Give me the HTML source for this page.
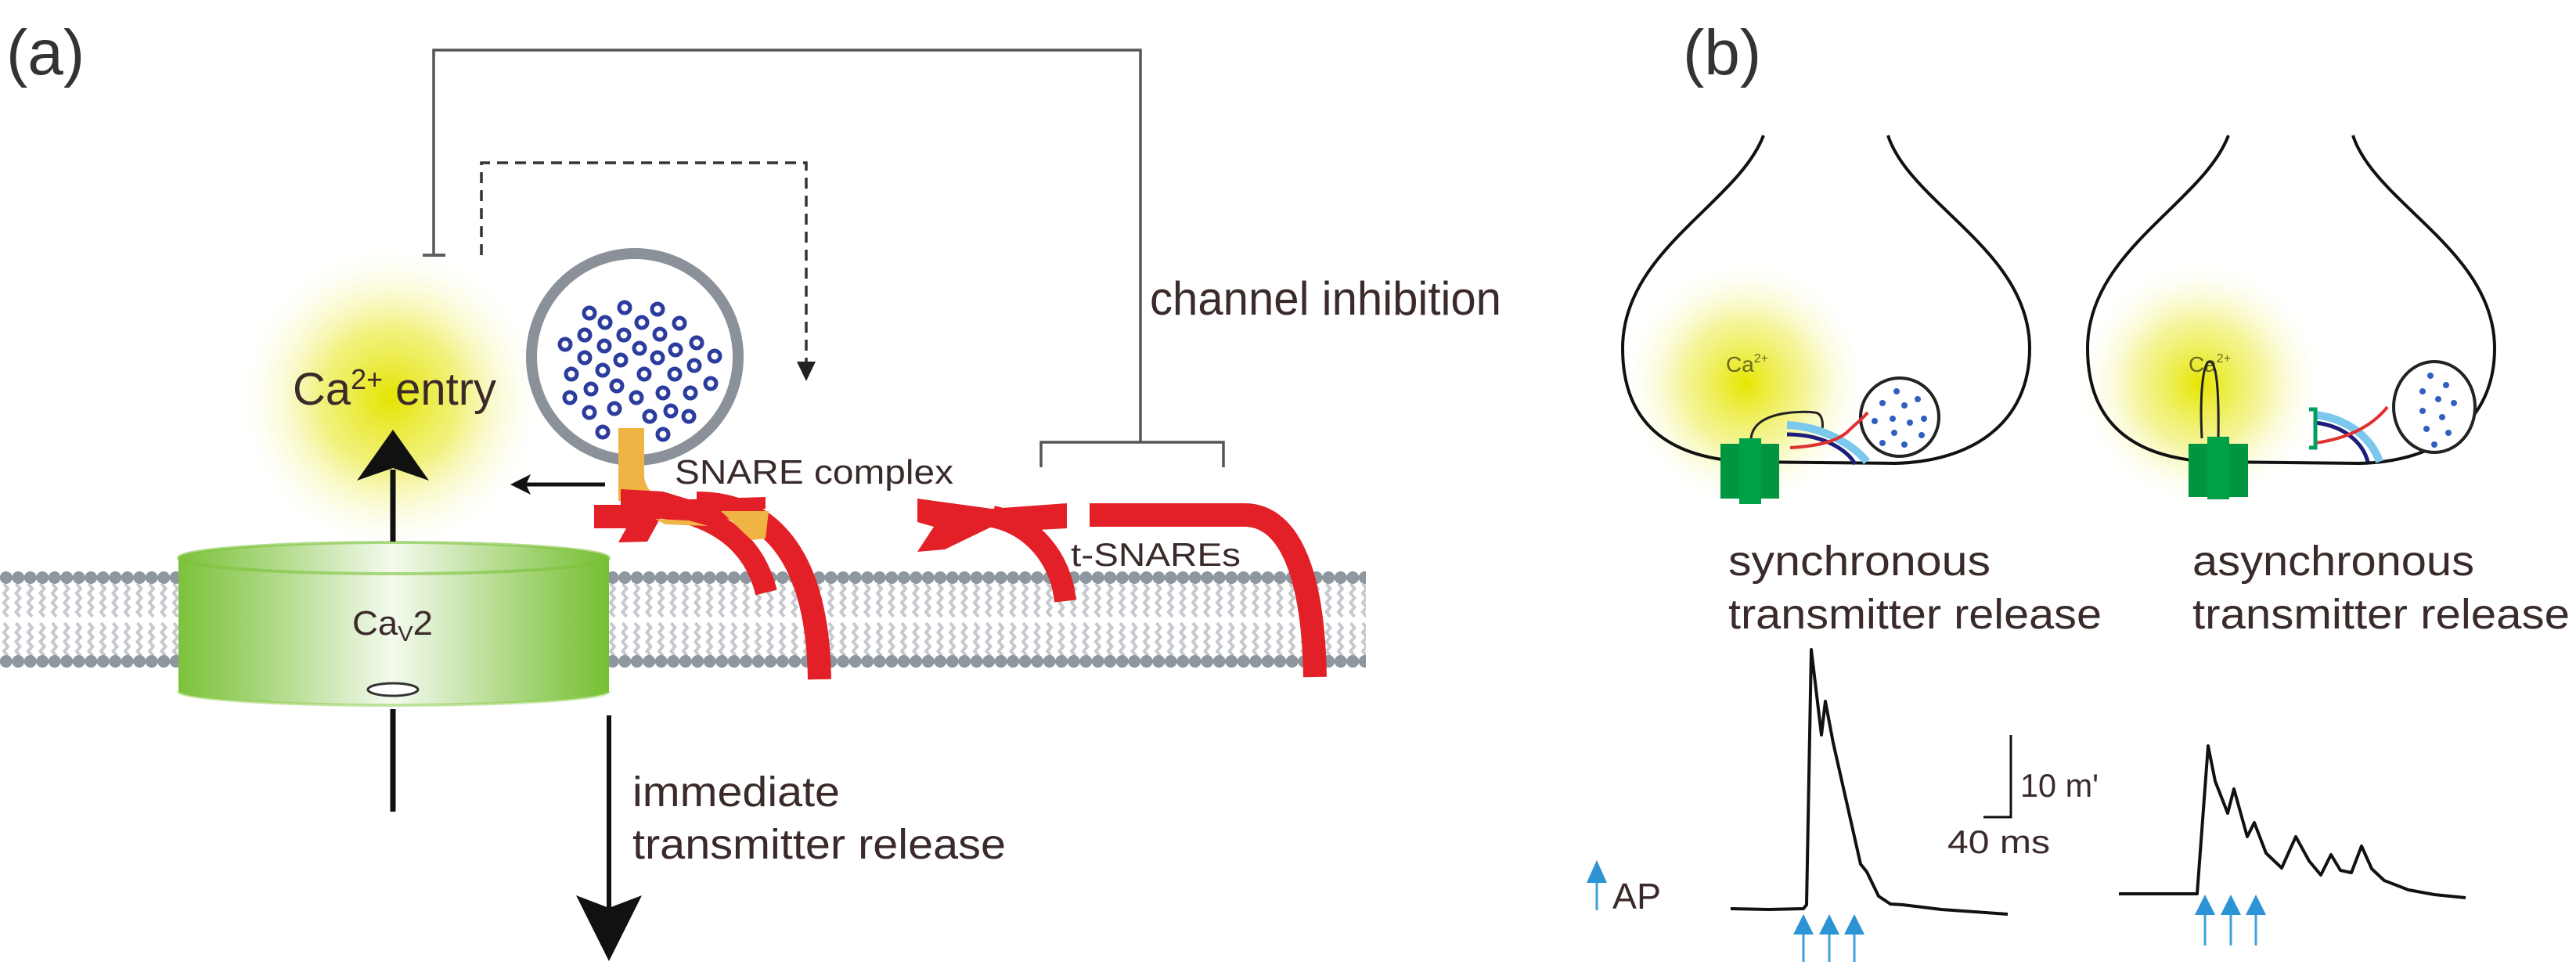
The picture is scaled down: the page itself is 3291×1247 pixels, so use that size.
<!DOCTYPE html>
<html><head><meta charset="utf-8"><style>
html,body{margin:0;padding:0;background:#fff;}
svg{display:block;}
text{font-family:"Liberation Sans",Arial,sans-serif;fill:#3a2a2a;}
</style></head><body>
<svg width="3291" height="1247" viewBox="0 0 3291 1247" xmlns="http://www.w3.org/2000/svg">
<defs>
 <radialGradient id="glowA" cx="0.5" cy="0.5" r="0.5">
  <stop offset="0" stop-color="#e4e400"/>
  <stop offset="0.45" stop-color="#eeee60" stop-opacity="0.8"/>
  <stop offset="1" stop-color="#ffffff" stop-opacity="0"/>
 </radialGradient>
 <radialGradient id="glowB" cx="0.5" cy="0.5" r="0.5">
  <stop offset="0" stop-color="#e6e600"/>
  <stop offset="0.5" stop-color="#f0f070" stop-opacity="0.7"/>
  <stop offset="1" stop-color="#ffffff" stop-opacity="0"/>
 </radialGradient>
 <linearGradient id="cyl" x1="0" x2="1" y1="0" y2="0">
  <stop offset="0" stop-color="#7cc23a"/>
  <stop offset="0.2" stop-color="#a9d77e"/>
  <stop offset="0.5" stop-color="#f4faee"/>
  <stop offset="0.8" stop-color="#a6d57a"/>
  <stop offset="1" stop-color="#76bf32"/>
 </linearGradient>
 <pattern id="mem" patternUnits="userSpaceOnUse" x="0" y="728" width="15.5" height="127">
  <polyline points="5,18 10,24 5,30 10,36 5,42 10,48 5,54 10,60" fill="none" stroke="#c6cace" stroke-width="4"/>
  <polyline points="5,68 10,74 5,80 10,86 5,92 10,98 5,104 10,110" fill="none" stroke="#c6cace" stroke-width="4"/>
  <circle cx="7.75" cy="10" r="8" fill="#8e969e"/>
  <circle cx="7.75" cy="117" r="8" fill="#8e969e"/>
 </pattern>
 <marker id="ah" markerWidth="10" markerHeight="10" refX="5" refY="9" orient="auto" markerUnits="userSpaceOnUse"/>
</defs>

<!-- ===== Panel (a) ===== -->
<text x="8" y="95" font-size="82" style="fill:#333">(a)</text>

<!-- connectors -->
<polyline points="554,326 554,64 1457,64 1457,565" fill="none" stroke="#555" stroke-width="3.5"/>
<line x1="540" y1="326" x2="569" y2="326" stroke="#555" stroke-width="4"/>
<polyline points="1330,597 1330,565 1563,565 1563,597" fill="none" stroke="#555" stroke-width="3.5"/>
<polyline points="615,326 615,208 1030,208 1030,470" fill="none" stroke="#333" stroke-width="3.5" stroke-dasharray="14,9"/>
<polygon points="1018,462 1042,462 1030,487" fill="#222"/>
<text x="1469" y="402" font-size="60" textLength="449" lengthAdjust="spacingAndGlyphs">channel inhibition</text>

<!-- glow -->
<circle cx="499" cy="509" r="200" fill="url(#glowA)"/>

<!-- membrane -->
<rect x="0" y="728" width="1745" height="127" fill="url(#mem)"/>

<!-- cylinder -->
<path d="M228 713 A275 20 0 0 1 778 713 L778 883 A275 18 0 0 1 228 883 Z" fill="url(#cyl)"/>
<path d="M228 713 A275 20 0 0 1 778 713 A275 20 0 0 1 228 713 Z" fill="none" stroke="#7cc23a" stroke-opacity="0.6" stroke-width="4"/>
<path d="M228 883 A275 18 0 0 0 778 883" fill="none" stroke="#8ccc4c" stroke-opacity="0.5" stroke-width="4"/>
<ellipse cx="502" cy="881" rx="32" ry="8" fill="#fff" stroke="#333" stroke-width="3"/>
<text x="450" y="811" font-size="44" textLength="103" lengthAdjust="spacingAndGlyphs">Ca<tspan font-size="28" dy="8">V</tspan><tspan dy="-8">2</tspan></text>

<!-- up arrow & lines -->
<line x1="502" y1="692" x2="502" y2="600" stroke="#111" stroke-width="7"/>
<polygon points="502,549 548,614 502,598 456,614" fill="#111"/>
<line x1="502" y1="906" x2="502" y2="1037" stroke="#111" stroke-width="7"/>
<text x="374" y="517" font-size="58" textLength="260" lengthAdjust="spacingAndGlyphs">Ca<tspan font-size="36" dy="-20">2+</tspan><tspan dy="20"> entry</tspan></text>

<!-- left arrow -->
<line x1="773" y1="619" x2="670" y2="619" stroke="#111" stroke-width="5"/>
<polygon points="652,619 678,606 672,619 678,632" fill="#111"/>

<!-- vesicle -->
<circle cx="811" cy="456" r="132" fill="#fff" stroke="#8a9198" stroke-width="14"/>
<g fill="#fff" stroke="#2b3c9e" stroke-width="5">
<circle cx="753" cy="400" r="7"/><circle cx="798" cy="393" r="7"/><circle cx="840" cy="395" r="7"/>
<circle cx="773" cy="412" r="7"/><circle cx="820" cy="412" r="7"/><circle cx="868" cy="413" r="7"/>
<circle cx="722" cy="440" r="7"/><circle cx="747" cy="428" r="7"/><circle cx="797" cy="428" r="7"/>
<circle cx="843" cy="427" r="7"/><circle cx="890" cy="438" r="7"/><circle cx="772" cy="442" r="7"/>
<circle cx="817" cy="445" r="7"/><circle cx="863" cy="447" r="7"/><circle cx="913" cy="455" r="7"/>
<circle cx="747" cy="457" r="7"/><circle cx="793" cy="460" r="7"/><circle cx="840" cy="457" r="7"/>
<circle cx="887" cy="467" r="7"/><circle cx="730" cy="478" r="7"/><circle cx="770" cy="473" r="7"/>
<circle cx="823" cy="478" r="7"/><circle cx="862" cy="478" r="7"/><circle cx="908" cy="490" r="7"/>
<circle cx="755" cy="497" r="7"/><circle cx="788" cy="493" r="7"/><circle cx="847" cy="502" r="7"/>
<circle cx="882" cy="502" r="7"/><circle cx="728" cy="508" r="7"/><circle cx="813" cy="508" r="7"/>
<circle cx="753" cy="527" r="7"/><circle cx="785" cy="522" r="7"/><circle cx="830" cy="532" r="7"/>
<circle cx="857" cy="525" r="7"/><circle cx="880" cy="532" r="7"/><circle cx="770" cy="552" r="7"/>
<circle cx="847" cy="555" r="7"/>
</g>
<!-- stalk -->
<path d="M790 547 L823 547 L823 610 Q826 628 845 640 L790 640 Z" fill="#f0b445"/>
<text x="862" y="618" font-size="44" textLength="356" lengthAdjust="spacingAndGlyphs">SNARE complex</text>

<!-- SNARE complex red -->
<path d="M890 643 C 990 643, 1045 720, 1047 868" fill="none" stroke="#e32027" stroke-width="30"/>
<polygon points="759,645 793,645 793,625 847,628 880,638 978,635 978,650 920,652 843,663 827,692 790,693 800,675 759,675" fill="#e32027"/>
<path d="M833 647 Q 955 660 979 757" fill="none" stroke="#e32027" stroke-width="28"/>
<polygon points="921,653 982,653 978,688 960,690" fill="#f0b445"/>
<polygon points="837,663 880,665 905,672 850,670" fill="#f0b445"/>

<!-- t-SNAREs -->
<polygon points="1172,637 1267,650 1363,643 1363,675 1327,677 1293,672 1267,673 1207,702 1172,705 1193,673 1172,667" fill="#e32027"/>
<path d="M1268 660 C 1318 670, 1355 712, 1361 768" fill="none" stroke="#e32027" stroke-width="28"/>
<path d="M1392 658 L1590 658 C 1650 658, 1678 740, 1680 865" fill="none" stroke="#e32027" stroke-width="30"/>
<text x="1368" y="723" font-size="42" textLength="217" lengthAdjust="spacingAndGlyphs">t-SNAREs</text>

<!-- down arrow -->
<line x1="778" y1="914" x2="778" y2="1160" stroke="#111" stroke-width="6"/>
<polygon points="736,1144 778,1160 820,1144 778,1228" fill="#111"/>
<text x="808" y="1030" font-size="54" textLength="265" lengthAdjust="spacingAndGlyphs">immediate</text>
<text x="808" y="1097" font-size="54" textLength="477" lengthAdjust="spacingAndGlyphs">transmitter release</text>

<!-- ===== Panel (b) ===== -->
<text x="2150" y="95" font-size="82" style="fill:#333">(b)</text>

<!-- left bouton -->
<circle cx="2230" cy="490" r="160" fill="url(#glowB)"/>
<path d="M2253 173 C 2220 260, 2073 320, 2073 445 C 2073 540, 2130 585, 2230 590 L2420 592 C 2520 590, 2593 540, 2593 445 C 2593 320, 2440 260, 2412 173" fill="none" stroke="#111" stroke-width="4"/>
<text x="2205" y="475" font-size="28" style="fill:#6a6a20">Ca<tspan font-size="16" dy="-12">2+</tspan></text>
<circle cx="2427" cy="533" r="50" fill="#fff" stroke="#222" stroke-width="4"/>
<g fill="#2f5fbf">
<circle cx="2423" cy="500" r="4"/><circle cx="2450" cy="510" r="4"/><circle cx="2405" cy="515" r="4"/><circle cx="2433" cy="518" r="4"/>
<circle cx="2395" cy="538" r="4"/><circle cx="2418" cy="535" r="4"/><circle cx="2440" cy="540" r="4"/><circle cx="2458" cy="535" r="4"/>
<circle cx="2420" cy="553" r="4"/><circle cx="2455" cy="556" r="4"/><circle cx="2405" cy="566" r="4"/><circle cx="2433" cy="568" r="4"/>
</g>
<path d="M2237 563 C 2237 525, 2300 525, 2318 527 C 2330 528, 2330 545, 2326 555" fill="none" stroke="#222" stroke-width="3"/>
<path d="M2283 543 C 2330 545, 2370 570, 2385 590" fill="none" stroke="#7cc7ec" stroke-width="10"/>
<path d="M2283 555 C 2330 555, 2360 575, 2370 593" fill="none" stroke="#1d1d7a" stroke-width="5"/>
<path d="M2287 572 C 2320 570, 2345 565, 2360 552 C 2372 540, 2380 535, 2386 527" fill="none" stroke="#e03030" stroke-width="4"/>
<g fill="#009640">
<rect x="2198" y="567" width="27" height="70"/><rect x="2222" y="560" width="28" height="84" fill="#00a048"/><rect x="2250" y="567" width="23" height="70"/>
</g>

<!-- right bouton -->
<circle cx="2811" cy="490" r="160" fill="url(#glowB)"/>
<path d="M2847 173 C 2814 260, 2667 320, 2667 445 C 2667 540, 2724 585, 2824 590 L3014 592 C 3114 590, 3187 540, 3187 445 C 3187 320, 3034 260, 3006 173" fill="none" stroke="#111" stroke-width="4"/>
<text x="2796" y="475" font-size="28" style="fill:#6a6a20">Ca<tspan font-size="16" dy="-12">2+</tspan></text>
<path d="M2813 560 C 2810 500, 2815 462, 2823 462 C 2832 462, 2835 500, 2834 560" fill="none" stroke="#222" stroke-width="3"/>
<ellipse cx="3110" cy="520" rx="52" ry="58" fill="#fff" stroke="#222" stroke-width="4"/>
<g fill="#2f5fbf">
<circle cx="3105" cy="480" r="4"/><circle cx="3125" cy="492" r="4"/><circle cx="3095" cy="500" r="4"/><circle cx="3115" cy="510" r="4"/>
<circle cx="3135" cy="515" r="4"/><circle cx="3095" cy="525" r="4"/><circle cx="3120" cy="533" r="4"/><circle cx="3100" cy="548" r="4"/>
<circle cx="3128" cy="553" r="4"/><circle cx="3110" cy="568" r="4"/>
</g>
<path d="M2958 530 C 3000 535, 3030 560, 3040 590" fill="none" stroke="#7cc7ec" stroke-width="10"/>
<path d="M2958 540 C 3000 545, 3020 570, 3025 590" fill="none" stroke="#1d1d7a" stroke-width="5"/>
<path d="M2958 566 C 3000 560, 3030 545, 3050 520" fill="none" stroke="#e03030" stroke-width="4"/>
<path d="M2950 523 L2958 523 L2958 572 L2950 572" fill="none" stroke="#00a060" stroke-width="5"/>
<g fill="#009640">
<rect x="2796" y="567" width="27" height="68"/><rect x="2820" y="558" width="28" height="80" fill="#00a048"/><rect x="2848" y="567" width="24" height="68"/>
</g>

<text x="2208" y="735" font-size="54" textLength="335" lengthAdjust="spacingAndGlyphs">synchronous</text>
<text x="2208" y="803" font-size="54" textLength="477" lengthAdjust="spacingAndGlyphs">transmitter release</text>
<text x="2801" y="735" font-size="54" textLength="360" lengthAdjust="spacingAndGlyphs">asynchronous</text>
<text x="2801" y="803" font-size="54" textLength="482" lengthAdjust="spacingAndGlyphs">transmitter release</text>

<!-- traces -->
<polyline points="2211,1161 2260,1162 2304,1161 2308,1156 2314,830 2327,939 2332,896 2342,949 2377,1104 2385,1114 2400,1145 2415,1155 2431,1156 2480,1162 2565,1168" fill="none" stroke="#111" stroke-width="4" stroke-linejoin="round"/>
<polyline points="2707,1142 2807,1142 2821,953 2830,998 2846,1039 2854,1008 2871,1069 2880,1051 2895,1090 2915,1109 2933,1069 2950,1100 2965,1118 2978,1092 2990,1112 3004,1115 3017,1081 3030,1110 3046,1125 3077,1137 3110,1143 3150,1147" fill="none" stroke="#111" stroke-width="4" stroke-linejoin="round"/>
<polyline points="2534,1044 2569,1044 2569,939" fill="none" stroke="#111" stroke-width="3"/>
<text x="2581" y="1018" font-size="42" textLength="100" lengthAdjust="spacingAndGlyphs">10 m'</text>
<text x="2488" y="1090" font-size="42" textLength="131" lengthAdjust="spacingAndGlyphs">40 ms</text>

<!-- blue arrows -->
<g stroke="#3fa0dc" stroke-width="3" fill="#2c93d4">
<line x1="2040" y1="1125" x2="2040" y2="1163"/><polygon points="2040,1099 2053,1128 2027,1128" stroke="none"/>
<line x1="2304" y1="1190" x2="2304" y2="1229"/><polygon points="2304,1168 2317,1194 2291,1194" stroke="none"/>
<line x1="2337" y1="1190" x2="2337" y2="1229"/><polygon points="2337,1168 2350,1194 2324,1194" stroke="none"/>
<line x1="2369" y1="1190" x2="2369" y2="1229"/><polygon points="2369,1168 2382,1194 2356,1194" stroke="none"/>
<line x1="2817" y1="1165" x2="2817" y2="1208"/><polygon points="2817,1143 2830,1169 2804,1169" stroke="none"/>
<line x1="2850" y1="1165" x2="2850" y2="1208"/><polygon points="2850,1143 2863,1169 2837,1169" stroke="none"/>
<line x1="2882" y1="1165" x2="2882" y2="1208"/><polygon points="2882,1143 2895,1169 2869,1169" stroke="none"/>
</g>
<text x="2060" y="1161" font-size="46" textLength="62" lengthAdjust="spacingAndGlyphs">AP</text>
</svg>
</body></html>
